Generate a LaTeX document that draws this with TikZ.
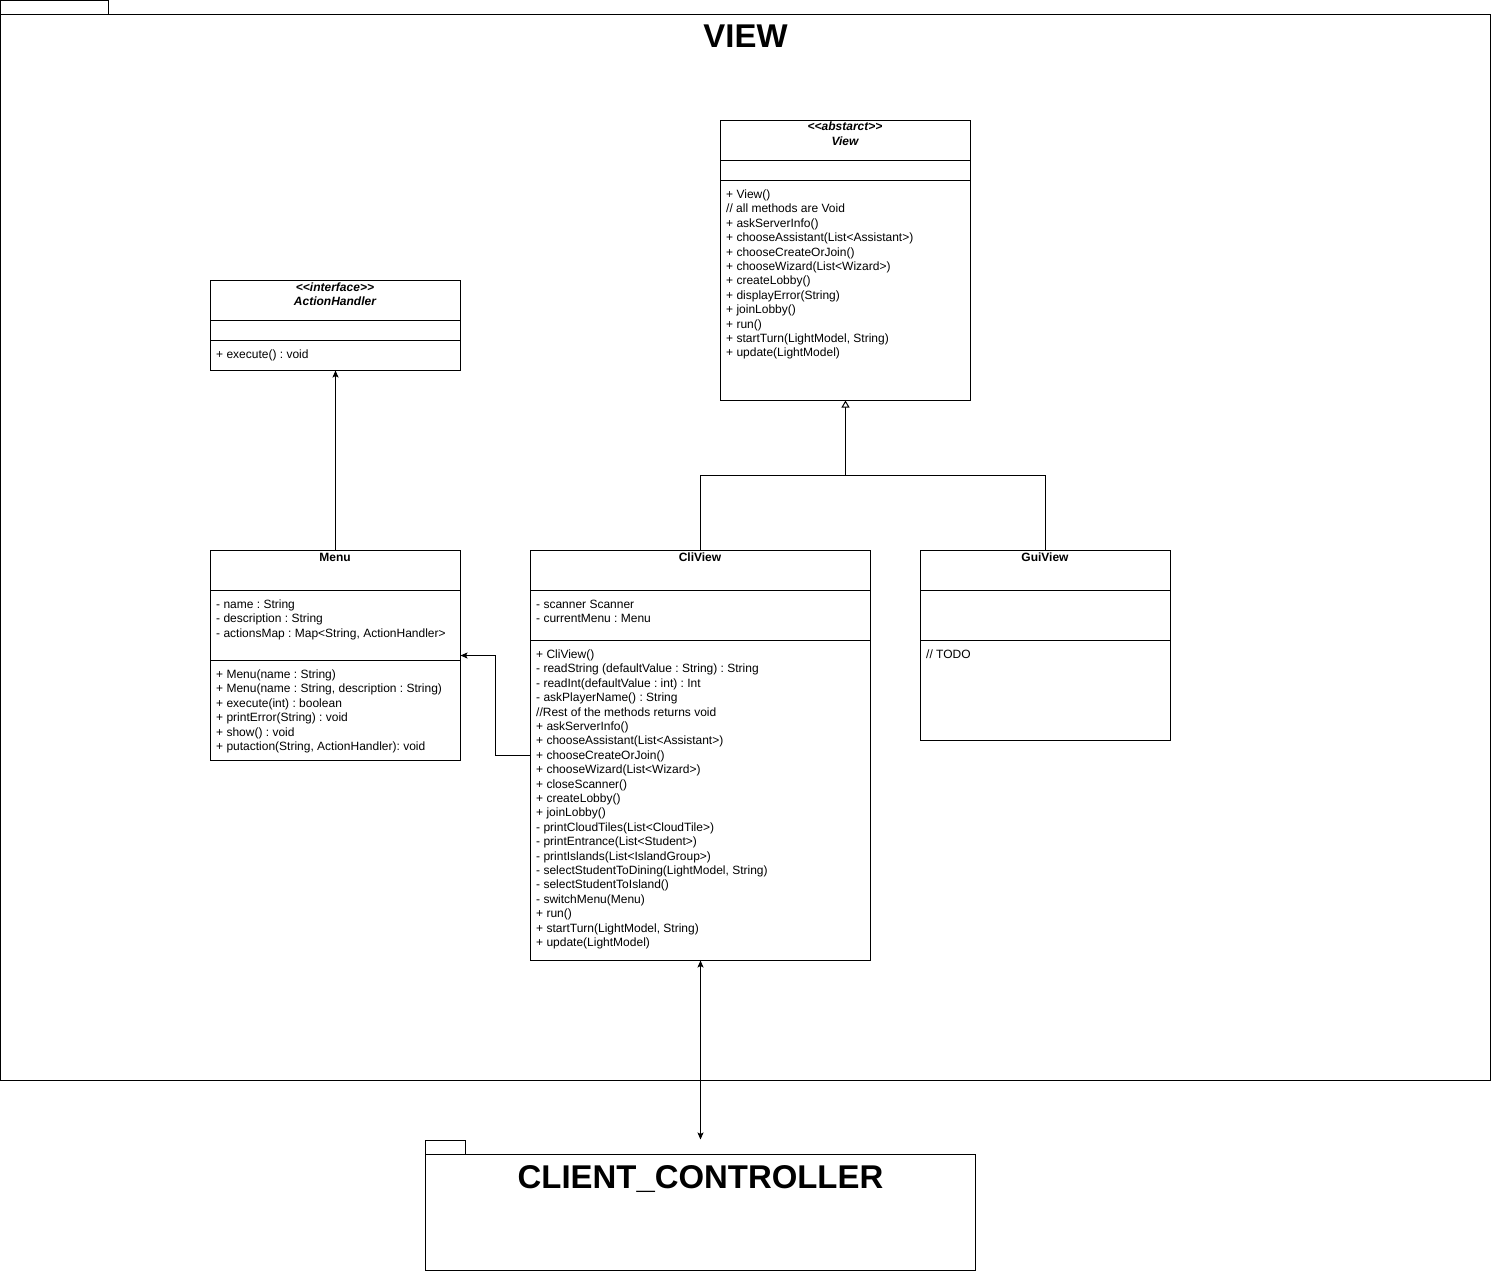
\documentclass[tikz,border=0pt]{standalone}
\usepackage{fontspec}
\setmainfont{Liberation Sans}
\usetikzlibrary{arrows.meta}
\frenchspacing
\tikzset{
  ln/.style={line width=1pt, draw=black},
  box/.style={ln, rectangle, inner sep=0pt, outer sep=0pt, anchor=north west, fill=white},
  txt/.style={anchor=base west, inner sep=0pt, font=\fontsize{12}{14.4}\selectfont},
  ttl/.style={anchor=base, inner sep=0pt, font=\bfseries\fontsize{12}{14.4}\selectfont},
  itl/.style={anchor=base, inner sep=0pt, font=\bfseries\itshape\fontsize{12}{14.4}\selectfont},
  pkgtitle/.style={anchor=base, inner sep=0pt, font=\bfseries\fontsize{32.9}{39}\selectfont},
  assoc/.style={ln, -{Stealth[length=7pt,width=6pt,inset=1.5pt]}},
  biassoc/.style={ln, {Stealth[length=7pt,width=6pt,inset=1.5pt]}-{Stealth[length=7pt,width=6pt,inset=1.5pt]}},
  gen/.style={ln, -{Triangle[open,length=7pt,width=8pt,fill=white]}},
}
\newcommand\umllist[4]{%
  \foreach \t [count=\i from 0] in {#4} {\node[txt] (#1-\i) at ({#2},{#3+14.4*\i}) {\t};}}
\begin{document}
\begin{tikzpicture}[x=1pt,y=-1pt]
\useasboundingbox (0,0) rectangle (1491,1271);

% VIEW package
\node[box, minimum width=108, minimum height=14] (viewtab) at (0.5,0.5) {};
\node[box, minimum width=1490, minimum height=1066] (viewpkg) at (0.5,14.5) {};
\node[pkgtitle] (viewtitle) at (745.5,47.5) {VIEW};

% CLIENT_CONTROLLER package
\node[box, minimum width=40, minimum height=14] (cctab) at (425.5,1140.5) {};
\node[box, minimum width=550, minimum height=116] (ccpkg) at (425.5,1154.5) {};
\node[pkgtitle] (cctitle) at (700.5,1188.5) {CLIENT\_CONTROLLER};

% View
\node[box, minimum width=250, minimum height=280] (view) at (720.5,120.5) {};
\draw[ln] ([yshift=-40pt]view.north west) -- ([yshift=-40pt]view.north east);
\draw[ln] ([yshift=-60pt]view.north west) -- ([yshift=-60pt]view.north east);
\node[itl] (viewst) at (845,131) {<{}<abstarct>{}>};
\node[itl] (viewnm) at (845,145.4) {View};
\umllist{viewm}{726}{198.5}{{+ View()},{// all methods are Void},{+ askServerInfo()},{+ chooseAssistant(List<Assistant>)},{+ chooseCreateOrJoin()},{+ chooseWizard(List<Wizard>)},{+ createLobby()},{+ displayError(String)},{+ joinLobby()},{+ run()},{+ startTurn(LightModel, String)},{+ update(LightModel)}}

% ActionHandler
\node[box, minimum width=250, minimum height=90] (ah) at (210.5,280.5) {};
\draw[ln] ([yshift=-40pt]ah.north west) -- ([yshift=-40pt]ah.north east);
\draw[ln] ([yshift=-60pt]ah.north west) -- ([yshift=-60pt]ah.north east);
\node[itl] (ahst) at (335,291) {<{}<interface>{}>};
\node[itl] (ahnm) at (335,305.4) {ActionHandler};
\umllist{ahm}{216}{358.5}{{+ execute() : void}}

% Menu
\node[box, minimum width=250, minimum height=210] (menu) at (210.5,550.5) {};
\draw[ln] ([yshift=-40pt]menu.north west) -- ([yshift=-40pt]menu.north east);
\draw[ln] ([yshift=-110pt]menu.north west) -- ([yshift=-110pt]menu.north east);
\node[ttl] (menunm) at (335,561) {Menu};
\umllist{menua}{216}{608.5}{{- name : String},{- description : String},{- actionsMap : Map<String, ActionHandler>}}
\umllist{menum}{216}{678.5}{{+ Menu(name : String)},{+ Menu(name : String, description : String)},{+ execute(int) : boolean},{+ printError(String) : void},{+ show() : void},{+ putaction(String, ActionHandler): void}}

% CliView
\node[box, minimum width=340, minimum height=410] (cli) at (530.5,550.5) {};
\draw[ln] ([yshift=-40pt]cli.north west) -- ([yshift=-40pt]cli.north east);
\draw[ln] ([yshift=-90pt]cli.north west) -- ([yshift=-90pt]cli.north east);
\node[ttl] (clinm) at (700,561) {CliView};
\umllist{clia}{536}{608.5}{{- scanner Scanner},{- currentMenu : Menu}}
\umllist{clim}{536}{658.5}{{+ CliView()},{- readString (defaultValue : String) : String},{- readInt(defaultValue : int) : Int},{- askPlayerName() : String},{//Rest of the methods returns void},{+ askServerInfo()},{+ chooseAssistant(List<Assistant>)},{+ chooseCreateOrJoin()},{+ chooseWizard(List<Wizard>)},{+ closeScanner()},{+ createLobby()},{+ joinLobby()},{- printCloudTiles(List<CloudTile>)},{- printEntrance(List<Student>)},{- printIslands(List<IslandGroup>)},{- selectStudentToDining(LightModel, String)},{- selectStudentToIsland()},{- switchMenu(Menu)},{+ run()},{+ startTurn(LightModel, String)},{+ update(LightModel)}}

% GuiView
\node[box, minimum width=250, minimum height=190] (gui) at (920.5,550.5) {};
\draw[ln] ([yshift=-40pt]gui.north west) -- ([yshift=-40pt]gui.north east);
\draw[ln] ([yshift=-90pt]gui.north west) -- ([yshift=-90pt]gui.north east);
\node[ttl] (guinm) at (1045,561) {GuiView};
\umllist{guim}{926}{658.5}{{// TODO}}

% connectors
\coordinate (genjoin) at (845.5,475.5);
\draw[ln] (cli.north) |- (genjoin);
\draw[ln] (gui.north) |- (genjoin);
\draw[gen] (genjoin) -- (view.south);
\draw[assoc] (menu.north) -- (ah.south);
\draw[assoc] (cli.west) -- ++(-35,0) |- (menu.east);
\coordinate (ccin) at (700.5,1139.5);
\draw[biassoc] (cli.south) -- (ccin);
\end{tikzpicture}
\end{document}
